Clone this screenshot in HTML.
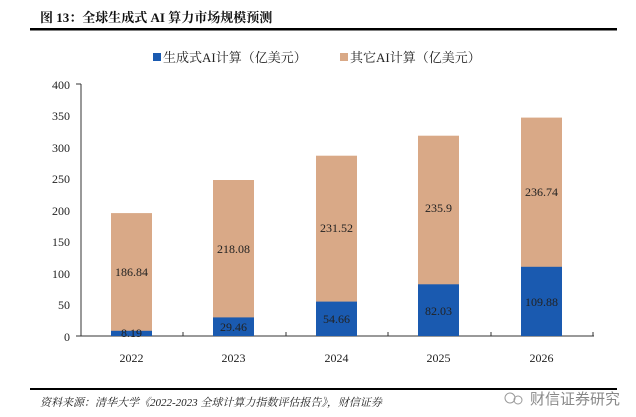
<!DOCTYPE html><html><head><meta charset="utf-8"><style>
body{margin:0;width:636px;height:412px;background:#fff;overflow:hidden;font-family:"Liberation Serif","Noto Serif CJK SC",serif}
</style></head><body>
<svg width="636" height="412" xmlns="http://www.w3.org/2000/svg" font-family="Liberation Serif, Noto Serif CJK SC, serif">
<text x="40" y="22" font-size="13" font-weight="bold" fill="#111">图 13：全球生成式 AI 算力市场规模预测</text>
<rect x="30" y="28" width="587" height="2.5" fill="#000"/>
<rect x="153" y="53" width="8" height="8" fill="#1a5ab0"/>
<text x="163" y="62" font-size="13" fill="#222">生成式AI计算（亿美元）</text>
<rect x="340" y="53" width="8" height="8" fill="#d9a987"/>
<text x="350" y="62" font-size="13" fill="#222">其它AI计算（亿美元）</text>
<g font-size="12" fill="#222" text-anchor="end">
<text x="70" y="89">400</text><text x="70" y="120">350</text><text x="70" y="152">300</text><text x="70" y="183">250</text><text x="70" y="215">200</text><text x="70" y="246">150</text><text x="70" y="278">100</text><text x="70" y="309">50</text><text x="70" y="341">0</text>
</g>
<g stroke="#333" stroke-width="1"><line x1="81" y1="84" x2="81" y2="336"/><line x1="81" y1="336" x2="594" y2="336"/>
<line x1="76" y1="84" x2="81" y2="84"/><line x1="76" y1="336" x2="81" y2="336"/>
<line x1="183" y1="336" x2="183" y2="332"/><line x1="286" y1="336" x2="286" y2="332"/><line x1="388" y1="336" x2="388" y2="332"/><line x1="491" y1="336" x2="491" y2="332"/><line x1="593" y1="336" x2="593" y2="332"/></g>
<g fill="#d9a987">
<rect x="111" y="213.1" width="41" height="118"/>
<rect x="213" y="180" width="41" height="137.7"/>
<rect x="316" y="155.7" width="41" height="146.2"/>
<rect x="418" y="135.7" width="41" height="148.9"/>
<rect x="521" y="117.6" width="41" height="149.5"/>
</g>
<g fill="#1a5ab0">
<rect x="111" y="330.8" width="41" height="5.2"/>
<rect x="213" y="317.4" width="41" height="18.6"/>
<rect x="316" y="301.6" width="41" height="34.4"/>
<rect x="418" y="284.3" width="41" height="51.7"/>
<rect x="521" y="266.8" width="41" height="69.2"/>
</g>
<g font-size="12" fill="#222" text-anchor="middle">
<text x="131.5" y="276">186.84</text><text x="233.5" y="253">218.08</text><text x="336.5" y="232">231.52</text><text x="438.5" y="212">235.9</text><text x="541.5" y="196">236.74</text>
<text x="131.5" y="337">8.19</text><text x="233.5" y="331">29.46</text><text x="336.5" y="323">54.66</text><text x="438.5" y="315">82.03</text><text x="541.5" y="306">109.88</text>
<text x="131.5" y="362">2022</text><text x="233.5" y="362">2023</text><text x="336.5" y="362">2024</text><text x="438.5" y="362">2025</text><text x="541.5" y="362">2026</text>
</g>
<rect x="30" y="388" width="587" height="2" fill="#000"/>
<text x="40" y="406" font-size="11" font-style="italic" fill="#222">资料来源：清华大学《2022-2023 全球计算力指数评估报告》，财信证券</text>
<circle cx="510" cy="398" r="5" fill="none" stroke="#999"/><circle cx="518" cy="400" r="4" fill="none" stroke="#999"/>
<text x="530" y="404" font-size="15" fill="#888" font-family="Liberation Sans, Noto Sans CJK SC, sans-serif">财信证券研究</text>
</svg>
</body></html>
